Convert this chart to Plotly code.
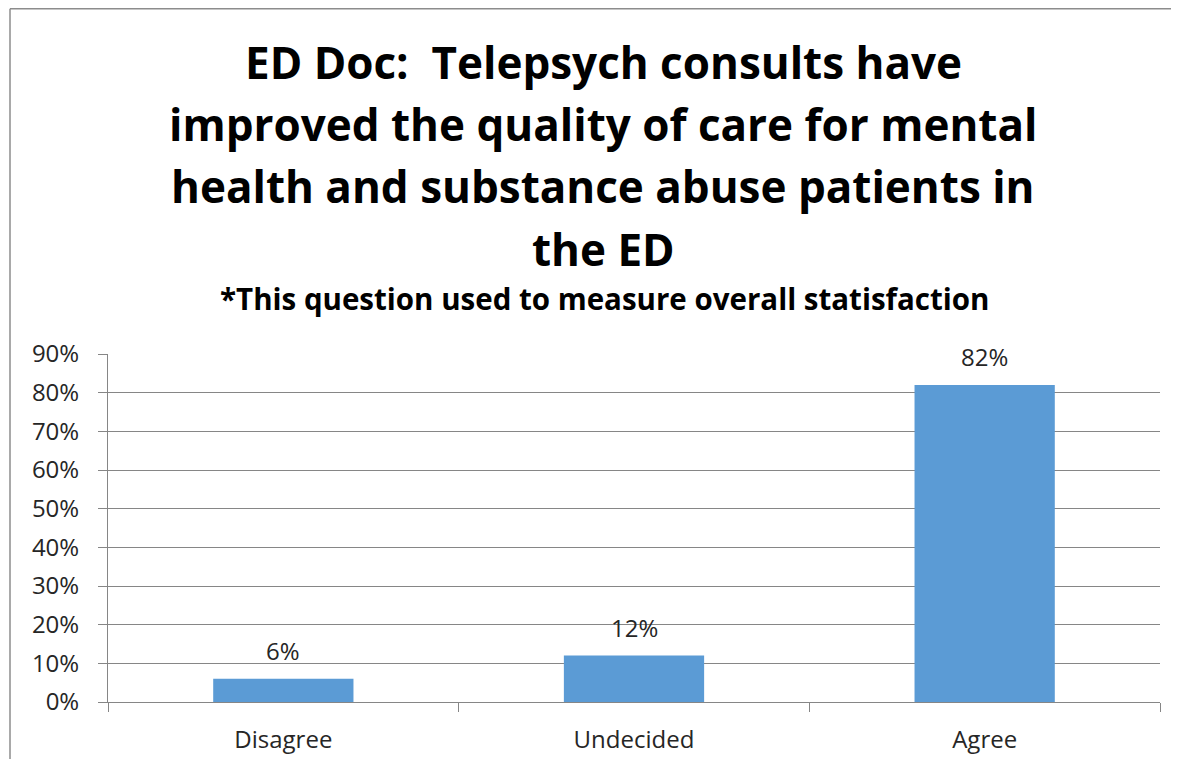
import plotly.graph_objects as go

categories = ["Disagree", "Undecided", "Agree"]
values = [0.06, 0.12, 0.82]
labels = ["6%", "12%", "82%"]
tick_vals = [0, 0.1, 0.2, 0.3, 0.4, 0.5, 0.6, 0.7, 0.8, 0.9]
tick_text = ["0%", "10%", "20%", "30%", "40%", "50%", "60%", "70%", "80%", "90%"]

title_lines = ["ED Doc:  Telepsych consults have",
               "improved the quality of care for mental",
               "health and substance abuse patients in",
               "the ED"]
subtitle = "*This question used to measure overall statisfaction"

# page has an 8px body margin; size figure to fit window
OFF = 8
W, H = 1164, 752
L, R, T, B = 100, 12, 346, 58

def px_x(x):
    return (x - OFF - L) / (W - L - R)

def px_y(y):
    return (H - B - (y - OFF)) / (H - T - B)

font = "Open Sans, sans-serif"
tick_color = "#262626"

fig = go.Figure()
fig.add_trace(go.Bar(
    x=categories, y=values, width=0.4,
    marker=dict(color="#5B9BD5", line=dict(width=0)),
    hoverinfo="skip",
))
for c, v, lab in zip(categories, values, labels):
    fig.add_annotation(x=c, y=v, text=lab, showarrow=False, xref="x", yref="y",
                       yanchor="middle", yshift=28,
                       font=dict(family=font, size=24, color=tick_color))

line_y = [62, 124, 186, 249]
for t, yy in zip(title_lines, line_y):
    fig.add_annotation(text="<b>" + t + "</b>", xref="paper", yref="paper",
                       x=px_x(603), y=px_y(yy), showarrow=False,
                       xanchor="center", yanchor="middle",
                       font=dict(family=font, size=44, color="#000000"))
fig.add_annotation(text="<b>" + subtitle + "</b>", xref="paper", yref="paper",
                   x=px_x(604), y=px_y(298), showarrow=False,
                   xanchor="center", yanchor="middle",
                   font=dict(family=font, size=29.5, color="#000000"))

# chart border (top and left edges visible)
border = dict(color="#8c8c8c", width=1.5)
fig.add_shape(type="line", xref="paper", yref="paper",
              x0=px_x(10), x1=px_x(1171), y0=px_y(8.8), y1=px_y(8.8), line=border)
fig.add_shape(type="line", xref="paper", yref="paper",
              x0=px_x(10), x1=px_x(10), y0=px_y(8.8), y1=px_y(759), line=border)

fig.update_layout(
    width=W, height=H,
    margin=dict(l=L, r=R, t=T, b=B, pad=0, autoexpand=False),
    paper_bgcolor="white", plot_bgcolor="white",
    showlegend=False,
    font=dict(family=font, size=24, color=tick_color),
)
fig.update_xaxes(
    range=[-0.5, 2.5], showgrid=False, showline=True, linecolor="#868686", linewidth=1,
    ticks="outside", tickson="boundaries", ticklen=9, tickcolor="#868686",
    tickfont=dict(family=font, size=24, color=tick_color), ticklabelstandoff=16,
    automargin=False,
)
fig.update_yaxes(
    range=[0, 0.9], tickvals=tick_vals, ticktext=tick_text,
    showgrid=True, gridcolor="#868686", gridwidth=1,
    showline=True, linecolor="#868686", linewidth=1,
    ticks="outside", ticklen=9, tickcolor="#868686",
    tickfont=dict(family=font, size=24, color=tick_color), ticklabelstandoff=14,
    zeroline=False, automargin=False,
)

fig.write_html("out.html")
